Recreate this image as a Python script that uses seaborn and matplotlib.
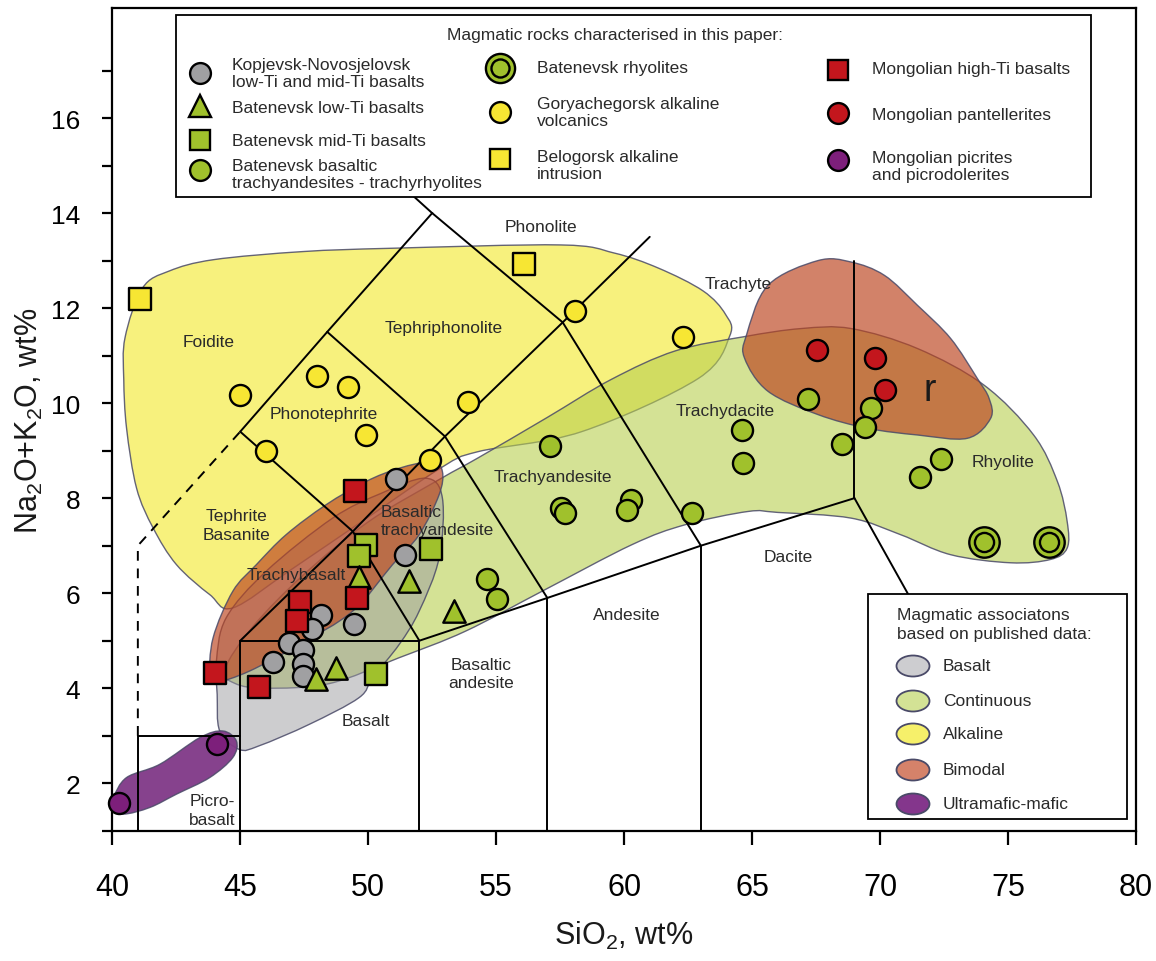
import numpy as np
import pandas as pd
import matplotlib
matplotlib.use("Agg")
import matplotlib.pyplot as plt
import seaborn as sns
from matplotlib.path import Path
from matplotlib.patches import PathPatch, Ellipse, Rectangle

sns.set_theme(style="white")
plt.rcParams['font.family'] = ['Liberation Sans', 'DejaVu Sans']
plt.rcParams['mathtext.fontset'] = 'custom'
plt.rcParams['mathtext.rm'] = 'Liberation Sans'

# ---------------- sample data (SiO2, Na2O+K2O in wt%) ----------------
kop_si = [51.1, 51.45, 48.15, 47.8, 49.45, 46.9, 47.45, 46.3, 47.45, 47.45]
kop_alk = [8.4, 6.8, 5.55, 5.25, 5.35, 4.95, 4.8, 4.55, 4.5, 4.25]

bat_lowti_si = [49.65, 51.6, 53.35, 48.75, 47.95]
bat_lowti_alk = [6.35, 6.25, 5.62, 4.43, 4.2]

bat_midti_si = [49.9, 49.65, 52.45, 50.3]
bat_midti_alk = [7.02, 6.78, 6.92, 4.29]

bat_bta_si = [57.1, 57.55, 57.7, 60.25, 60.1, 62.65, 54.65, 55.05, 64.6, 64.65,
              67.2, 69.65, 69.4, 68.5, 72.4, 71.55]
bat_bta_alk = [9.1, 7.8, 7.68, 7.96, 7.75, 7.68, 6.3, 5.88, 9.43, 8.75,
               10.08, 9.9, 9.5, 9.15, 8.82, 8.45]

bat_rhy_si = [74.05, 76.6]
bat_rhy_alk = [7.07, 7.07]

gor_si = [45.0, 46.0, 48.0, 49.2, 49.9, 53.9, 52.4, 58.1, 62.3]
gor_alk = [10.18, 9.0, 10.57, 10.35, 9.33, 10.02, 8.8, 11.95, 11.4]

bel_si = [41.1, 56.1]
bel_alk = [12.2, 12.92]

mon_hiti_si = [49.5, 47.35, 47.2, 49.55, 44.0, 45.75]
mon_hiti_alk = [8.15, 5.82, 5.42, 5.9, 4.33, 4.02]

mon_pant_si = [67.55, 69.8, 70.2]
mon_pant_alk = [11.12, 10.95, 10.28]

mon_pic_si = [44.1, 40.25]
mon_pic_alk = [2.82, 1.58]

# ---------------- association field outlines ----------------
alkaline_si = [41.18, 42.22, 43.96, 47.44, 50.92, 57.52, 59.61, 61.35, 63.09, 63.96,
               64.13, 62.9, 58.34, 54.3, 52.88, 50.0, 47.0, 44.71, 43.81, 42.51,
               41.6, 40.95, 40.56, 40.45, 40.5]
alkaline_alk = [12.42, 12.78, 13.02, 13.19, 13.26, 13.33, 13.16, 12.84, 12.36, 11.87,
                11.42, 10.52, 9.4, 8.98, 8.65, 7.6, 6.5, 5.69, 5.97, 6.6,
                7.37, 8.21, 9.47, 10.5, 11.38]

continuous_si = [44.4, 45.5, 47.5, 50.0, 52.8, 54.3, 57.0, 59.5, 62.0, 64.7, 66.92,
                 68.87, 71.46, 74.06, 76.0, 76.93, 77.31, 77.31, 76.66, 75.1, 72.76,
                 70.81, 68.87, 66.0, 64.84, 62.38, 60.3, 56.79, 53.8, 51.2, 48.5,
                 46.0, 44.8]
continuous_alk = [4.4, 5.3, 6.4, 7.5, 8.4, 8.85, 9.7, 10.5, 11.1, 11.4, 11.57,
                  11.57, 11.15, 10.38, 9.33, 8.35, 7.51, 6.95, 6.71, 6.64, 6.81,
                  7.23, 7.58, 7.7, 7.72, 7.44, 7.02, 6.04, 5.2, 4.64, 4.1,
                  4.0, 4.1]

basalt_si = [52.9, 52.77, 51.99, 51.21, 50.17, 49.64, 47.7, 45.75, 44.97, 44.2,
             44.1, 44.07, 44.45, 46.01, 48.61, 50.5, 52.25]
basalt_alk = [8.0, 6.74, 5.62, 4.92, 4.22, 3.8, 3.24, 2.79, 2.71, 3.1,
              3.87, 4.57, 5.48, 6.46, 7.58, 8.1, 8.42]

bimodal_a_si = [43.81, 43.94, 44.71, 45.63, 46.79, 48.35, 49.91, 51.21, 52.5, 52.9,
                52.77, 51.99, 50.95, 49.39, 47.31, 45.36, 44.07]
bimodal_a_alk = [4.22, 5.06, 6.04, 6.6, 7.23, 7.86, 8.35, 8.63, 8.77, 8.56,
                 8.07, 7.23, 6.6, 5.62, 4.92, 4.36, 4.12]

bimodal_b_si = [67.57, 68.87, 70.17, 71.46, 72.76, 73.8, 74.26, 74.32, 73.41, 71.46,
                69.52, 67.57, 65.62, 64.71, 64.78, 65.62]
bimodal_b_alk = [13.0, 12.97, 12.69, 12.06, 11.36, 10.52, 10.1, 9.68, 9.26, 9.33,
                 9.47, 9.76, 10.25, 10.94, 11.43, 12.48]

ultramafic_si = [40.04, 40.56, 41.86, 43.42, 44.32, 44.85, 44.71, 43.81, 42.51, 41.47,
                 40.43, 39.95]
ultramafic_alk = [1.7, 2.12, 2.4, 2.96, 3.1, 2.89, 2.54, 2.12, 1.77, 1.49,
                  1.35, 1.49]

# ---------------- TAS classification boundaries ----------------
Y0 = 0.0
tas_solid = [
    [(41, Y0), (41, 3), (45, 3)],
    [(45, Y0), (45, 5), (52, 5), (52, Y0)],
    [(52, 5), (57, 5.9), (63, 7), (69, 8)],
    [(57, Y0), (57, 5.9)],
    [(63, Y0), (63, 7)],
    [(69, 8), (69, 13)],
    [(45, 5), (49.4, 7.3), (53, 9.3), (57.6, 11.7), (61, 13.5)],
    [(45, 9.4), (49.4, 7.3), (52, 5)],
    [(48.4, 11.5), (53, 9.3), (57, 5.9)],
    [(52.5, 14), (57.6, 11.7), (63, 7)],
    [(45, 9.4), (48.4, 11.5), (52.5, 14), (48.4, 16)],
]
tas_dacite_rhyolite = [(69, 8), (77.3, 0)]
tas_dashed = [(41, 3), (41, 7), (45, 9.4)]

field_names = ["Phonolite", "Trachyte", "Tephriphonolite", "Foidite", "Phonotephrite",
               "Tephrite\nBasanite", "Trachybasalt", "Trachyandesite", "Trachydacite",
               "Rhyolite", "Dacite", "Andesite", "Basaltic\nandesite", "Basalt",
               "Picro-\nbasalt"]
field_x = [56.74, 64.45, 52.96, 43.78, 48.25, 44.85, 47.2, 57.2, 63.95, 74.8, 66.4,
           60.1, 54.4, 49.9, 43.9]
field_y = [13.72, 12.52, 11.6, 11.3, 9.78, 7.44, 6.39, 8.46, 9.85, 8.77, 6.78,
           5.55, 4.31, 3.31, 1.44]


def smooth_closed_path(xs, ys):
    """Closed Catmull-Rom outline rendered as cubic Bezier segments."""
    pts = np.column_stack([xs, ys]).astype(float)
    n = len(pts)
    verts = [pts[0]]
    codes = [Path.MOVETO]
    for i in range(n):
        p0, p1 = pts[(i - 1) % n], pts[i]
        p2, p3 = pts[(i + 1) % n], pts[(i + 2) % n]
        verts += [p1 + (p2 - p0) / 6.0, p2 - (p3 - p1) / 6.0, p2]
        codes += [Path.CURVE4] * 3
    verts.append(pts[0])
    codes.append(Path.CLOSEPOLY)
    return Path(verts, codes)


fig = plt.figure(figsize=(11.56, 9.62), dpi=100)
ax = fig.add_axes([0.0971, 0.1354, 0.8856, 0.8549])
FW, FH = 1156.0, 962.0
AX_W, AX_H = 0.8856 * FW, 0.8549 * FH


def axpos(px, py):
    """Figure pixel position (from top-left) -> axes fraction."""
    fx, fy = px / FW, 1 - py / FH
    return ax.transAxes.inverted().transform(fig.transFigure.transform((fx, fy)))


edge_c = "#4a4a68"
fields = [
    (alkaline_si, alkaline_alk, (0.97, 0.945, 0.49), 1.0),
    (continuous_si, continuous_alk, (0.72, 0.81, 0.31), 0.6),
    (basalt_si, basalt_alk, (0.61, 0.61, 0.63), 0.5),
    (bimodal_a_si, bimodal_a_alk, (0.737, 0.27, 0.12), 0.67),
    (bimodal_b_si, bimodal_b_alk, (0.737, 0.27, 0.12), 0.67),
    (ultramafic_si, ultramafic_alk, (0.50, 0.22, 0.53), 0.95),
]
for z, (xs, ys, fc, a) in enumerate(fields):
    path = smooth_closed_path(xs, ys)
    ax.add_patch(PathPatch(path, facecolor=fc, alpha=a, edgecolor="none", zorder=1 + z * 0.1))
    ax.add_patch(PathPatch(path, facecolor="none", edgecolor=edge_c, lw=1.0, alpha=0.85,
                           zorder=1.05 + z * 0.1))

for seg in tas_solid:
    sx, sy = zip(*seg)
    ax.plot(sx, sy, color="black", lw=1.4, zorder=2, solid_joinstyle="miter")
dx, dy = zip(*tas_dashed)
ax.plot(dx, dy, color="black", lw=1.4, ls=(0, (5, 4)), zorder=2)

LABEL_FS = 12.5
TXT_C = "#2a2a2a"
for name, x, y in zip(field_names, field_x, field_y):
    ax.text(x, y, name, ha="center", va="center", fontsize=LABEL_FS, color=TXT_C,
            linespacing=1.3, zorder=2.5)
ax.text(50.5, 7.54, "Basaltic\ntrachyandesite", ha="left", va="center", fontsize=LABEL_FS,
        color=TXT_C, linespacing=1.25, zorder=2.5)
ax.text(71.93, 10.27, "r", ha="center", va="center", fontsize=27, color="#1a1a1a", zorder=2.5)

# ---------------- samples ----------------
c_gray, c_green, c_yellow = "#a0a0a2", "#a0c12c", "#f7e633"
c_red, c_purple = "#c3161d", "#7d1f7b"
mew = 1.7
groups = [
    (kop_si, kop_alk, "o", c_gray, 230),
    (bat_midti_si, bat_midti_alk, "s", c_green, 250),
    (bat_lowti_si, bat_lowti_alk, "^", c_green, 260),
    (mon_hiti_si, mon_hiti_alk, "s", c_red, 250),
    (gor_si, gor_alk, "o", c_yellow, 230),
    (bel_si, bel_alk, "s", c_yellow, 250),
    (bat_bta_si, bat_bta_alk, "o", c_green, 230),
    (mon_pant_si, mon_pant_alk, "o", c_red, 230),
    (mon_pic_si, mon_pic_alk, "o", c_purple, 230),
]
for xs, ys, m, c, s in groups:
    df = pd.DataFrame({"SiO2": xs, "alk": ys})
    sns.scatterplot(data=df, x="SiO2", y="alk", marker=m, s=s, color=c, edgecolor="black",
                    linewidth=mew, ax=ax, zorder=3, legend=False, clip_on=False)
df_rhy = pd.DataFrame({"SiO2": bat_rhy_si, "alk": bat_rhy_alk})
sns.scatterplot(data=df_rhy, x="SiO2", y="alk", marker="o", s=480, color=c_green,
                edgecolor="black", linewidth=mew, ax=ax, zorder=3, legend=False)
sns.scatterplot(data=df_rhy, x="SiO2", y="alk", marker="o", s=190, color=c_green,
                edgecolor="black", linewidth=mew, ax=ax, zorder=3.1, legend=False)

# ---------------- axes ----------------
ax.set_xlim(40, 80)
ax.set_ylim(1.06, 18.31)
ax.set_xticks(np.arange(40, 81, 5))
ax.set_yticks(np.arange(2, 17, 2))
ax.set_yticks(np.arange(1, 18, 1), minor=True)
for sp in ax.spines.values():
    sp.set_color("black")
    sp.set_linewidth(1.6)
ax.tick_params(axis="x", which="major", direction="out", length=10, width=1.6, pad=20,
               labelsize=22, bottom=True, colors="black")
ax.tick_params(axis="y", which="both", direction="out", length=7, width=1.6, pad=16,
               labelsize=19, left=True, colors="black")
ax.set_xlabel("SiO$_2$, wt%", fontsize=22, labelpad=12, color="#1a1a1a")
ax.set_ylabel("Na$_2$O+K$_2$O, wt%", fontsize=22, labelpad=4, color="#1a1a1a")
ax.grid(False)

# ---------------- legend: associations from published data ----------------
LEG_FS = 12.5
bx0, by1 = axpos(868, 595)
bx1, by0 = axpos(1127, 820)

# dacite / rhyolite boundary runs under this legend box and stops at its lower edge
drx, dry = zip(*tas_dacite_rhyolite)
dr_line, = ax.plot(drx, dry, color="black", lw=1.4, zorder=2)
dr_line.set_clip_path(Rectangle((0, by0), 1, 1 - by0, transform=ax.transAxes))

assoc_labels = ["Basalt", "Continuous", "Alkaline", "Bimodal", "Ultramafic-mafic"]
assoc_colors = ["#cdcdd0", "#d3e295", "#f6f06a", "#d5826a", "#84368c"]
assoc_rows = [667, 702, 735, 771, 805]
ax.add_patch(Rectangle((bx0, by0), bx1 - bx0, by1 - by0, transform=ax.transAxes,
                       facecolor="white", edgecolor="black", lw=1.3, zorder=5, clip_on=False))
ax.text(*axpos(897, 625), "Magmatic associatons\nbased on published data:",
        transform=ax.transAxes, ha="left", va="center", fontsize=LEG_FS, color=TXT_C,
        linespacing=1.35, zorder=6)
ew, eh = 33 / AX_W, 21 / AX_H
for lab, fc, ry_ in zip(assoc_labels, assoc_colors, assoc_rows):
    ex, ey = axpos(913, ry_)
    ax.add_patch(Ellipse((ex, ey), ew, eh, transform=ax.transAxes, facecolor=fc,
                         edgecolor=edge_c, lw=1.3, zorder=6, clip_on=False))
    ax.text(*axpos(943, ry_), lab, transform=ax.transAxes, ha="left", va="center",
            fontsize=LEG_FS, color=TXT_C, zorder=6)

# ---------------- legend: rocks characterised in this paper ----------------
x0, y1 = axpos(176, 16)
x1, y0 = axpos(1091, 198)
ax.add_patch(Rectangle((x0, y0), x1 - x0, y1 - y0, transform=ax.transAxes,
                       facecolor="white", edgecolor="black", lw=1.3, zorder=5, clip_on=False))
ax.text(*axpos(615, 36), "Magmatic rocks characterised in this paper:", transform=ax.transAxes,
        ha="center", va="center", fontsize=LEG_FS, color=TXT_C, zorder=6)

legend_rows = [
    # (marker x px, marker y px, text x px, text y px, marker, face, size, label)
    (200, 74, 232, 74, "o", c_gray, 15, "Kopjevsk-Novosjelovsk\nlow-Ti and mid-Ti basalts"),
    (200, 107, 232, 108, "^", c_green, 16, "Batenevsk low-Ti basalts"),
    (200, 141, 232, 142, "s", c_green, 15, "Batenevsk mid-Ti basalts"),
    (200, 171, 232, 175, "o", c_green, 15, "Batenevsk basaltic\ntrachyandesites - trachyrhyolites"),
    (500, 113, 537, 113, "o", c_yellow, 15, "Goryachegorsk alkaline\nvolcanics"),
    (500, 160, 537, 166, "s", c_yellow, 15, "Belogorsk alkaline\nintrusion"),
    (838, 71, 872, 69, "s", c_red, 15, "Mongolian high-Ti basalts"),
    (838, 114, 872, 116, "o", c_red, 15, "Mongolian pantellerites"),
    (838, 161, 872, 167, "o", c_purple, 15, "Mongolian picrites\nand picrodolerites"),
]
for mx, my, tx_, ty_, m, fc, ms, lab in legend_rows:
    ax.plot(*axpos(mx, my), marker=m, ms=ms, mfc=fc, mec="black", mew=mew, ls="none",
            transform=ax.transAxes, zorder=6, clip_on=False)
    ax.text(*axpos(tx_, ty_), lab, transform=ax.transAxes, ha="left", va="center",
            fontsize=LEG_FS, color=TXT_C, linespacing=1.2, zorder=6)
rx, ry = axpos(500, 69)
ax.plot(rx, ry, marker="o", ms=21, mfc=c_green, mec="black", mew=mew, ls="none",
        transform=ax.transAxes, zorder=6, clip_on=False)
ax.plot(rx, ry, marker="o", ms=13, mfc=c_green, mec="black", mew=mew, ls="none",
        transform=ax.transAxes, zorder=6.1, clip_on=False)
ax.text(*axpos(537, 68), "Batenevsk rhyolites", transform=ax.transAxes, ha="left",
        va="center", fontsize=LEG_FS, color=TXT_C, zorder=6)

fig.savefig("out.png", dpi=100)
